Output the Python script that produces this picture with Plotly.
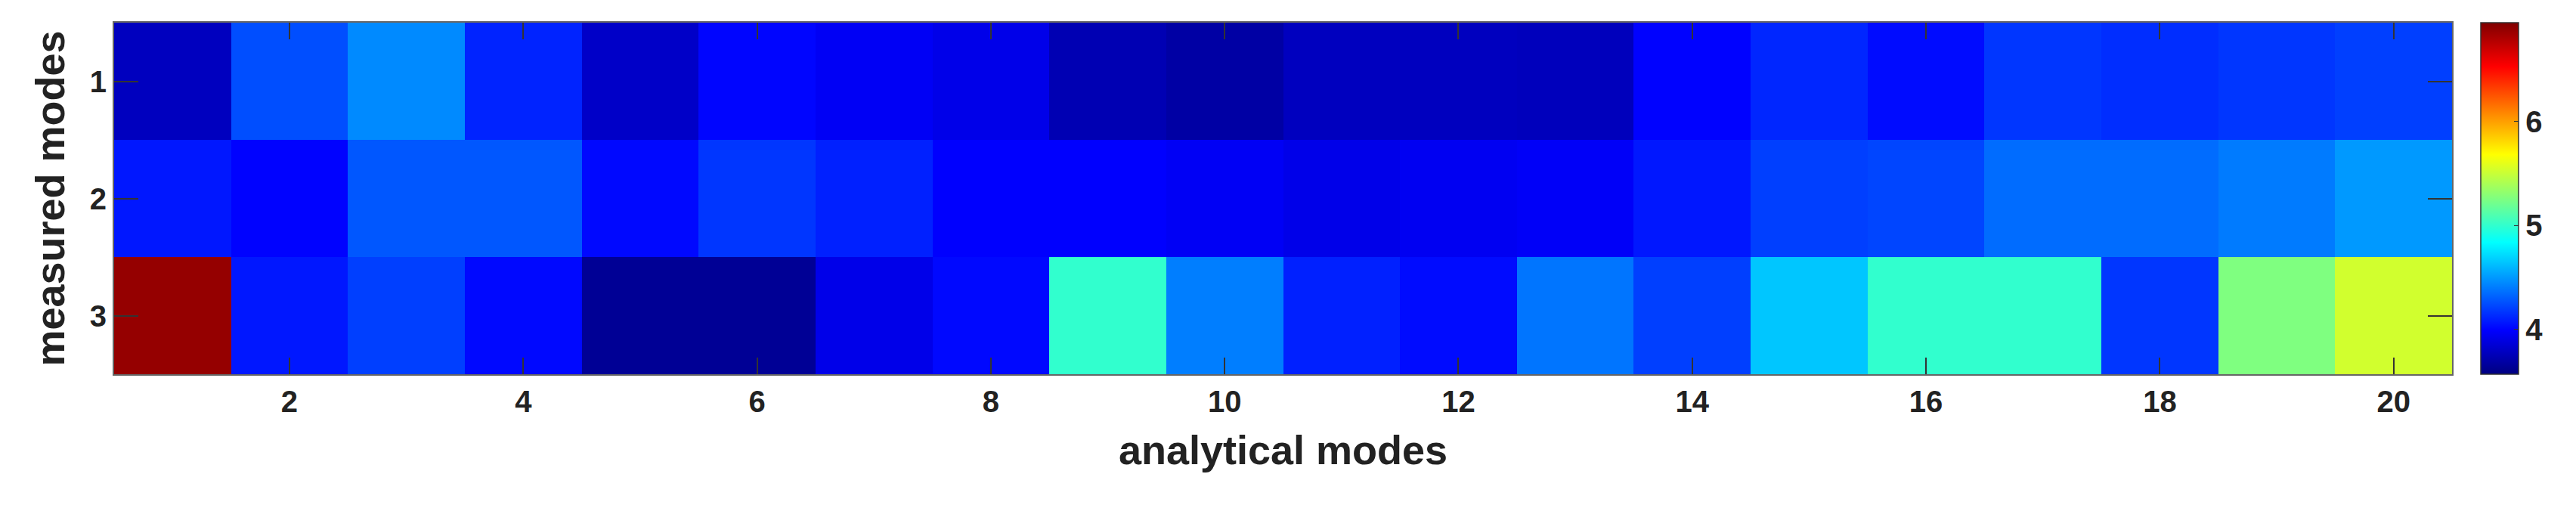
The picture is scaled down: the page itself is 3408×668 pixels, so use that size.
import plotly.graph_objects as go

analytical_modes = list(range(1, 21))
measured_modes = [1, 2, 3]
row1 = [3.78, 4.25, 4.45, 4.11, 3.81, 4.01, 3.96, 3.92, 3.74, 3.69, 3.78, 3.78, 3.77, 4.00, 4.12, 4.03, 4.17, 4.14, 4.17, 4.20]
row2 = [4.07, 4.00, 4.28, 4.28, 4.02, 4.17, 4.10, 3.99, 3.99, 3.96, 3.92, 3.95, 3.97, 4.07, 4.20, 4.22, 4.35, 4.35, 4.40, 4.50]
row3 = [6.88, 4.07, 4.20, 4.02, 3.64, 3.64, 3.92, 4.02, 5.00, 4.41, 4.10, 4.03, 4.38, 4.20, 4.65, 5.00, 5.00, 4.17, 5.26, 5.53]
zmin, zmax = 3.57, 6.95

jet = [[0, "rgb(0,0,128)"], [0.125, "rgb(0,0,255)"], [0.375, "rgb(0,255,255)"],
       [0.625, "rgb(255,255,0)"], [0.875, "rgb(255,0,0)"], [1, "rgb(128,0,0)"]]

fig = go.Figure(go.Heatmap(
    x=analytical_modes, y=measured_modes, z=[row1, row2, row3],
    colorscale=jet, zmin=zmin, zmax=zmax,
    colorbar=dict(x=1.009, xanchor="left", y=1, yanchor="top", len=1, lenmode="fraction", ypad=0,
                  thickness=50, thicknessmode="pixels", outlinewidth=1.5, outlinecolor="#333",
                  tickvals=[4, 5, 6], ticks="inside", ticklen=6, tickcolor="#333",
                  tickfont=dict(family="Arial", size=40, color="#222", weight="bold")),
))
axfont = dict(family="Arial", size=40, color="#222", weight="bold")
fig.update_layout(
    width=3408, height=668, paper_bgcolor="white", plot_bgcolor="white",
    margin=dict(l=143, r=172, t=22, b=181),
    xaxis=dict(range=[0.5, 20.5], tickvals=list(range(2, 21, 2)), ticks="inside", ticklen=22,
               tickcolor="#333", tickwidth=2, mirror="ticks", showline=True, linecolor="#666", linewidth=2,
               tickfont=axfont, showgrid=False, zeroline=False,
               title=dict(text="analytical modes", font=dict(family="Arial", size=54, color="#222", weight="bold"), standoff=24)),
    yaxis=dict(range=[3.5, 0.5], tickvals=[1, 2, 3], ticks="inside", ticklen=32,
               tickcolor="#333", tickwidth=2, mirror="ticks", showline=True, linecolor="#666", linewidth=2,
               tickfont=axfont, showgrid=False, zeroline=False,
               title=dict(text="measured modes", font=dict(family="Arial", size=54, color="#222", weight="bold"), standoff=16)),
)
fig.write_html("out.html")
